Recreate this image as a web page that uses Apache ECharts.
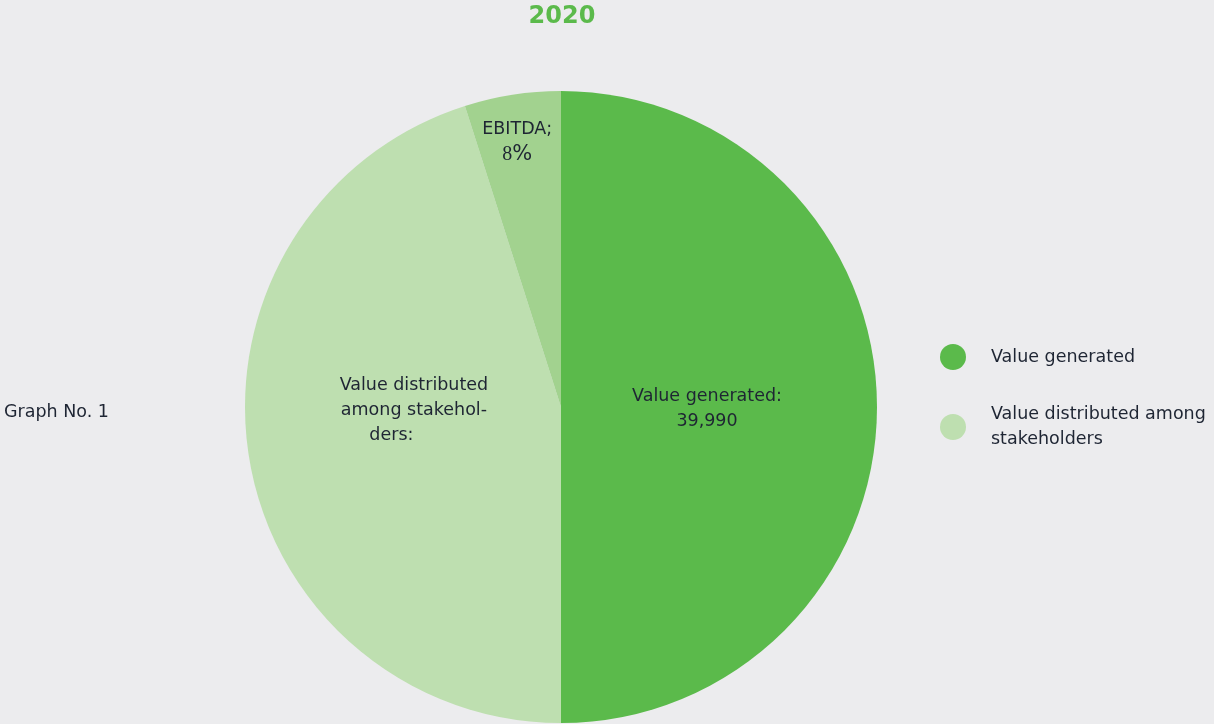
<!DOCTYPE html>
<html><head><meta charset="utf-8">
<script src="https://cdn.jsdelivr.net/npm/echarts@6/dist/echarts.min.js"></script>
<style>html,body{margin:0;padding:0;background:#ECECEE;}#c{width:1214px;height:724px;}</style>
</head><body><div id="c"></div>
<script>
const titleText = '2020';
const sideNote = 'Graph No. 1';
const categories = ['Value generated', 'Value distributed among stakeholders', 'EBITDA'];
const values = [39990, 36058, 3932];
const sliceLabels = ['Value generated:\n39,990', 'Value distributed\namong stakehol-\n{ind|ders:}', 'EBITDA;\n{s|8}{p|%}'];
const colors = ['#5BBA4B', '#BEDFB0', '#A2D28F'];
const legendItems = ['Value generated', 'Value distributed among stakeholders'];

const offsets = [[-15, 2], [12, -21], [-19, -106]];
const font = '"DejaVu Sans", Inter, sans-serif';
const fs = 17.5;

const chart = echarts.init(document.getElementById('c'));
chart.setOption({
  backgroundColor: '#ECECEE',
  animation: false,
  title: [
    { text: titleText, left: 562, top: 5, textAlign: 'center', padding: 0,
      textStyle: { color: '#5BBA4B', fontSize: 24, fontWeight: 'bold', fontFamily: font } },
    { text: sideNote, left: 4, top: 403, padding: 0,
      textStyle: { color: '#1E2533', fontSize: fs, fontWeight: 'normal', fontFamily: font } }
  ],
  legend: {
    orient: 'vertical', left: 935, top: 339, icon: 'circle',
    itemWidth: 26, itemHeight: 26, itemGap: 32,
    data: legendItems,
    formatter: n => n.replace(' among stakeholders', ' among\nstakeholders'),
    textStyle: { color: '#1E2533', fontSize: fs, lineHeight: 25, fontFamily: font, padding: [0, 0, 0, 20] }
  },
  series: [{
    type: 'pie', center: [561, 407], radius: 316, startAngle: 90, clockwise: true,
    silent: true,
    itemStyle: { borderWidth: 0 },
    labelLine: { show: false },
    data: categories.map((c, i) => ({
      name: c, value: values[i],
      itemStyle: { color: colors[i] },
      label: {
        show: true, position: 'inside', formatter: sliceLabels[i],
        offset: offsets[i],
        color: '#1E2533', fontSize: fs, lineHeight: 25, fontFamily: font,
        rich: {
          ind: { padding: [0, 45, 0, 0], color: '#1E2533', fontSize: fs, lineHeight: 25, fontFamily: font },
          s: { fontFamily: '"Liberation Serif", serif', color: '#1E2533', fontSize: 20, lineHeight: 25 },
          p: { fontFamily: font, color: '#1E2533', fontSize: 21, lineHeight: 25 }
        }
      }
    }))
  }]
});
</script></body></html>
